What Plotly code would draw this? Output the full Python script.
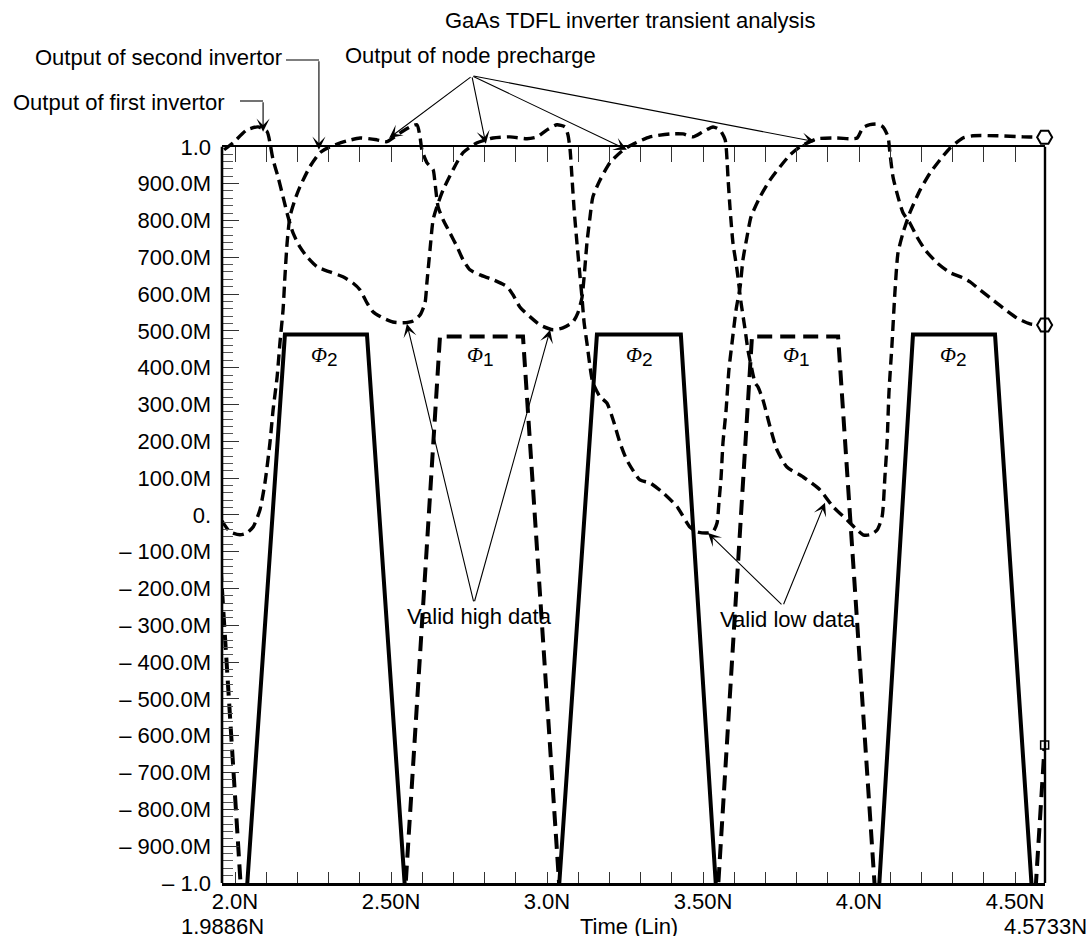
import numpy as np
import plotly.graph_objects as go

# ---------------- data (time in ns, voltage in V) ----------------
time_first = [1.965, 1.994, 2.038, 2.074, 2.103, 2.112, 2.122, 2.138, 2.154, 2.170,
              2.186, 2.208, 2.231, 2.263, 2.304, 2.346, 2.378, 2.401, 2.423, 2.442,
              2.474, 2.506, 2.538, 2.571, 2.593, 2.609, 2.615, 2.625, 2.635, 2.647,
              2.667, 2.699, 2.731, 2.776, 2.827, 2.881, 2.936, 2.968, 3.000, 3.032,
              3.058, 3.067, 3.074, 3.080, 3.087, 3.096, 3.106, 3.112, 3.119, 3.128,
              3.138, 3.147, 3.170, 3.192, 3.212, 3.234, 3.256, 3.298, 3.330, 3.372,
              3.417, 3.458, 3.481, 3.513, 3.532, 3.545, 3.551, 3.558, 3.564, 3.574,
              3.583, 3.593, 3.606, 3.619, 3.628, 3.641, 3.654, 3.683, 3.715, 3.747,
              3.779, 3.811, 3.843, 3.865, 3.929, 3.971, 3.994, 4.013, 4.035, 4.058,
              4.077, 4.093, 4.099, 4.109, 4.125, 4.141, 4.163, 4.186, 4.212, 4.250,
              4.292, 4.333, 4.356, 4.388, 4.420, 4.462, 4.506, 4.548, 4.595]
volt_first = [0.992, 1.011, 1.046, 1.054, 1.041, 1.011, 0.965, 0.918, 0.864, 0.810,
              0.766, 0.728, 0.701, 0.674, 0.660, 0.647, 0.630, 0.611, 0.576, 0.552,
              0.535, 0.524, 0.522, 0.527, 0.543, 0.576, 0.630, 0.720, 0.802, 0.837,
              0.883, 0.938, 0.984, 1.011, 1.024, 1.027, 1.022, 1.027, 1.046, 1.060,
              1.054, 1.033, 0.992, 0.918, 0.829, 0.739, 0.647, 0.592, 0.522, 0.467,
              0.402, 0.359, 0.321, 0.304, 0.258, 0.196, 0.149, 0.095, 0.087, 0.060,
              0.022, -0.033, -0.046, -0.049, -0.046, -0.022, 0.033, 0.103, 0.196, 0.285,
              0.394, 0.467, 0.557, 0.620, 0.693, 0.755, 0.810, 0.864, 0.910, 0.946,
              0.978, 1.000, 1.014, 1.022, 1.024, 1.022, 1.024, 1.052, 1.060, 1.062,
              1.054, 1.027, 0.984, 0.918, 0.864, 0.821, 0.793, 0.755, 0.720, 0.685,
              0.658, 0.644, 0.633, 0.611, 0.590, 0.562, 0.535, 0.519, 0.516]

time_second = [1.958, 1.984, 2.016, 2.038, 2.058, 2.080, 2.096, 2.112, 2.122, 2.135,
               2.144, 2.154, 2.160, 2.167, 2.176, 2.192, 2.208, 2.240, 2.272, 2.304,
               2.359, 2.401, 2.455, 2.487, 2.506, 2.535, 2.561, 2.583, 2.593, 2.599,
               2.615, 2.635, 2.641, 2.651, 2.667, 2.689, 2.712, 2.731, 2.753, 2.785,
               2.827, 2.872, 2.891, 2.913, 2.946, 2.978, 3.019, 3.051, 3.083, 3.099,
               3.112, 3.119, 3.128, 3.138, 3.147, 3.170, 3.202, 3.234, 3.266, 3.298,
               3.330, 3.394, 3.436, 3.468, 3.500, 3.532, 3.554, 3.571, 3.577, 3.580,
               3.587, 3.596, 3.609, 3.622, 3.635, 3.644, 3.657, 3.667, 3.676, 3.692,
               3.715, 3.737, 3.769, 3.821, 3.875, 3.917, 3.962, 3.994, 4.013, 4.035,
               4.058, 4.074, 4.083, 4.090, 4.096, 4.106, 4.115, 4.125, 4.141, 4.163,
               4.196, 4.228, 4.260, 4.292, 4.333, 4.365, 4.442, 4.526, 4.595]
volt_second = [-0.016, -0.046, -0.054, -0.049, -0.033, 0.014, 0.087, 0.196, 0.285, 0.375,
               0.467, 0.557, 0.647, 0.739, 0.810, 0.856, 0.891, 0.946, 0.984, 1.000,
               1.016, 1.024, 1.019, 1.014, 1.024, 1.041, 1.054, 1.060, 1.027, 0.992,
               0.957, 0.938, 0.902, 0.837, 0.802, 0.766, 0.728, 0.693, 0.666, 0.652,
               0.639, 0.620, 0.598, 0.565, 0.538, 0.516, 0.503, 0.508, 0.524, 0.549,
               0.590, 0.647, 0.739, 0.810, 0.864, 0.910, 0.957, 0.984, 1.003, 1.016,
               1.027, 1.035, 1.035, 1.027, 1.041, 1.054, 1.046, 1.019, 0.965, 0.918,
               0.829, 0.739, 0.666, 0.576, 0.503, 0.448, 0.394, 0.359, 0.348, 0.313,
               0.239, 0.177, 0.130, 0.103, 0.068, 0.022, -0.014, -0.041, -0.054, -0.054,
               -0.041, -0.005, 0.103, 0.196, 0.332, 0.467, 0.603, 0.712, 0.766, 0.821,
               0.883, 0.929, 0.965, 0.997, 1.024, 1.030, 1.030, 1.027, 1.026]

time_phi1 = [1.907, 2.020, 2.545, 2.657, 2.923, 3.041, 3.547, 3.657, 3.933, 4.052, 4.565, 4.595]
volt_phi1 = [0.485, -1.03, -1.03, 0.485, 0.485, -1.03, -1.03, 0.485, 0.485, -1.03, -1.03, -0.625]

time_phi2 = [1.958, 2.037, 2.160, 2.423, 2.546, 3.037, 3.160, 3.429, 3.543,
             4.063, 4.173, 4.436, 4.555, 4.596]
volt_phi2 = [-1.03, -1.03, 0.49, 0.49, -1.03, -1.03, 0.49, 0.49, -1.03,
             -1.03, 0.49, 0.49, -1.03, -1.03]

phase_label_times = [2.288, 2.788, 3.298, 3.801, 4.304]
phase_label_names = ["2", "1", "2", "1", "2"]
phase_label_level = 0.429

y_tick_vals = [1.0, 0.9, 0.8, 0.7, 0.6, 0.5, 0.4, 0.3, 0.2, 0.1, 0.0,
               -0.1, -0.2, -0.3, -0.4, -0.5, -0.6, -0.7, -0.8, -0.9, -1.0]
y_tick_text = ["1.0", "900.0M", "800.0M", "700.0M", "600.0M", "500.0M", "400.0M",
               "300.0M", "200.0M", "100.0M", "0.",
               "\u2013 100.0M", "\u2013 200.0M", "\u2013 300.0M", "\u2013 400.0M",
               "\u2013 500.0M", "\u2013 600.0M", "\u2013 700.0M", "\u2013 800.0M",
               "\u2013 900.0M", "\u2013 1.0"]
x_major_vals = [2.0, 2.5, 3.0, 3.5, 4.0, 4.5]
x_major_text = ["2.0N", "2.50N", "3.0N", "3.50N", "4.0N", "4.50N"]
x_start_label = "1.9886N"
x_end_label = "4.5733N"
x_title = "Time (Lin)"
chart_title = "GaAs TDFL inverter transient analysis"

# ---------------- layout constants ----------------
X_RANGE = [1.95833, 4.59615]
Y_RANGE = [-1.0, 1.1]
FRAME_RANGE = [-1.0, 1.0]
W, H = 1088, 936
ML, MR, MT, MB = 222, 43, 110, 53
PW, PH = W - ML - MR, H - MT - MB
FONT = "Liberation Sans, Arial, Helvetica, sans-serif"
TOP_FRAC = (FRAME_RANGE[1] - Y_RANGE[0]) / (Y_RANGE[1] - Y_RANGE[0])


def px(xp):
    return (xp - ML) / PW


def py(yp):
    return (H - MB - yp) / PH


x_tick_all = [round(v, 1) for v in np.arange(2.0, 4.55, 0.1)]
x_tick_lbl = [x_major_text[x_major_vals.index(v)] if v in x_major_vals else "" for v in x_tick_all]
y_minor = [round(v, 2) for v in np.arange(-1.0, 1.001, 0.02)
           if round(v, 2) not in [round(t, 2) for t in y_tick_vals]]

fig = go.Figure()

fig.add_trace(go.Scatter(x=time_phi2, y=volt_phi2, mode="lines",
                         line=dict(color="black", width=4), hoverinfo="skip"))
fig.add_trace(go.Scatter(x=time_phi1, y=volt_phi1, mode="lines",
                         line=dict(color="black", width=4, dash="15px,8px"), hoverinfo="skip"))
fig.add_trace(go.Scatter(x=time_first, y=volt_first, mode="lines",
                         line=dict(color="black", width=3.4, dash="11px,6px",
                                   shape="spline", smoothing=0.6)))
fig.add_trace(go.Scatter(x=time_second, y=volt_second, mode="lines",
                         line=dict(color="black", width=3.4, dash="11px,6px",
                                   shape="spline", smoothing=0.6)))
fig.add_trace(go.Scatter(x=[time_first[-1], time_second[-1]],
                         y=[volt_first[-1], volt_second[-1]], mode="markers",
                         marker=dict(symbol="hexagon2", size=15, color="white",
                                     line=dict(color="black", width=2)),
                         cliponaxis=False))
fig.add_trace(go.Scatter(x=[time_phi1[-1]], y=[volt_phi1[-1]], mode="markers",
                         marker=dict(symbol="square", size=8, color="white",
                                     line=dict(color="black", width=1.5)),
                         cliponaxis=False))
# invisible carrier trace on the frame subplot (x2/y2) that carries the top tick row
fig.add_trace(go.Scatter(x=time_second, y=volt_second, xaxis="x2", yaxis="y2", mode="lines",
                         line=dict(width=0), opacity=0, hoverinfo="skip"))

annotations = []
txt = dict(family=FONT, size=22, color="black")

annotations.append(dict(xref="paper", yref="paper", x=px(629.5), y=py(20), text=chart_title,
                        showarrow=False, font=txt, xanchor="center", yanchor="middle"))
annotations.append(dict(xref="paper", yref="paper", x=px(284), y=py(58),
                        text="Output of second invertor", showarrow=False, font=txt,
                        xanchor="right", yanchor="middle"))
annotations.append(dict(xref="paper", yref="paper", x=px(227), y=py(102),
                        text="Output of first invertor", showarrow=False, font=txt,
                        xanchor="right", yanchor="middle"))
annotations.append(dict(xref="paper", yref="paper", x=px(343), y=py(56),
                        text="Output of node precharge", showarrow=False, font=txt,
                        xanchor="left", yanchor="middle"))
annotations.append(dict(x=2.785, y=-0.277, text="Valid high data", showarrow=False,
                        font=txt, xanchor="center", yanchor="middle"))
annotations.append(dict(x=3.771, y=-0.283, text="Valid low data", showarrow=False,
                        font=txt, xanchor="center", yanchor="middle"))

arrow_style = dict(showarrow=True, arrowhead=3, arrowsize=2.0, arrowwidth=1.1,
                   arrowcolor="black", standoff=0, startstandoff=0, text="")
# (tip time, tip volt, dx, dy) in pixels from tip to tail
arrows = [
    (2.269, 0.992, 0, -90),
    (2.090, 1.041, 0, -31),
    (2.494, 1.024, 83, -62),
    (2.804, 1.008, -14, -68),
    (3.256, 0.992, -155, -74),
    (3.859, 1.014, -343, -66),
    (2.551, 0.519, 67, 279),
    (3.010, 0.503, -76, 273),
    (3.516, -0.049, 75, 73),
    (3.891, 0.033, -42, 103),
]
for (tx, tv, dx, dy) in arrows:
    annotations.append(dict(x=tx, y=tv, ax=dx, ay=dy, axref="pixel", ayref="pixel", **arrow_style))

for t, n in zip(phase_label_times, phase_label_names):
    annotations.append(dict(x=t, y=phase_label_level,
                            text="<span style='font-family:Liberation Serif'><i>\u03a6</i></span>"
                                 "<sub><span style='font-size:19px'>" + n + "</span></sub>",
                            showarrow=False, font=dict(family=FONT, size=21, color="black"),
                            xanchor="center", yanchor="middle"))

annotations.append(dict(xref="paper", yref="paper", x=0, y=py(926.5), text=x_start_label,
                        showarrow=False, font=txt, xanchor="center", yanchor="middle"))
annotations.append(dict(xref="paper", yref="paper", x=1, y=py(926.5), text=x_end_label,
                        showarrow=False, font=txt, xanchor="center", yanchor="middle"))
annotations.append(dict(xref="paper", yref="paper", x=px(629), y=py(926.5), text=x_title,
                        showarrow=False, font=txt, xanchor="center", yanchor="middle"))

shapes = [
    dict(type="line", xref="paper", yref="paper", x0=0, x1=0, y0=0, y1=TOP_FRAC,
         line=dict(color="black", width=2.6)),
    dict(type="line", xref="paper", yref="paper", x0=1, x1=1, y0=0, y1=TOP_FRAC,
         line=dict(color="black", width=2.4)),
    dict(type="path", xref="paper", yref="paper",
         path=f"M {px(286)} {py(60)} L {px(319)} {py(60)}",
         line=dict(color="black", width=1.1)),
    dict(type="path", xref="paper", yref="paper",
         path=f"M {px(240)} {py(101)} L {px(263)} {py(101)}",
         line=dict(color="black", width=1.1)),
]

fig.update_layout(
    width=W, height=H, autosize=False,
    margin=dict(l=ML, r=MR, t=MT, b=MB, pad=0),
    paper_bgcolor="white", plot_bgcolor="rgba(0,0,0,0)",
    showlegend=False,
    font=dict(family=FONT, size=22, color="black"),
    annotations=annotations, shapes=shapes,
    xaxis=dict(range=X_RANGE, showgrid=False, zeroline=False,
               showline=True, linecolor="black", linewidth=2.6,
               tickmode="array", tickvals=x_tick_all, ticktext=x_tick_lbl,
               ticks="inside", ticklen=11, tickwidth=1.3, tickcolor="#333",
               tickfont=dict(family=FONT, size=22, color="black"),
               ticklabelstandoff=-3),
    xaxis2=dict(range=X_RANGE, domain=[0, 1], anchor="y2", side="top",
                showgrid=False, zeroline=False,
                showline=True, linecolor="black", linewidth=2.4,
                tickmode="array", tickvals=x_tick_all, showticklabels=False,
                ticks="inside", ticklen=15, tickwidth=1.3, tickcolor="#333"),
    yaxis2=dict(range=FRAME_RANGE, domain=[0, TOP_FRAC], anchor="x2",
                showgrid=False, zeroline=False, showline=False,
                showticklabels=False, ticks=""),
    yaxis=dict(range=Y_RANGE, domain=[0, 1], showgrid=False, zeroline=False, showline=False,
               tickmode="array", tickvals=y_tick_vals, ticktext=y_tick_text,
               ticks="inside", ticklen=17, tickwidth=1.3, tickcolor="#333",
               tickfont=dict(family=FONT, size=22, color="black"),
               ticklabelstandoff=10,
               minor=dict(tickmode="array", tickvals=y_minor, ticks="inside",
                          ticklen=11, tickwidth=1, tickcolor="#555")),
)

fig.write_html("out.html")
